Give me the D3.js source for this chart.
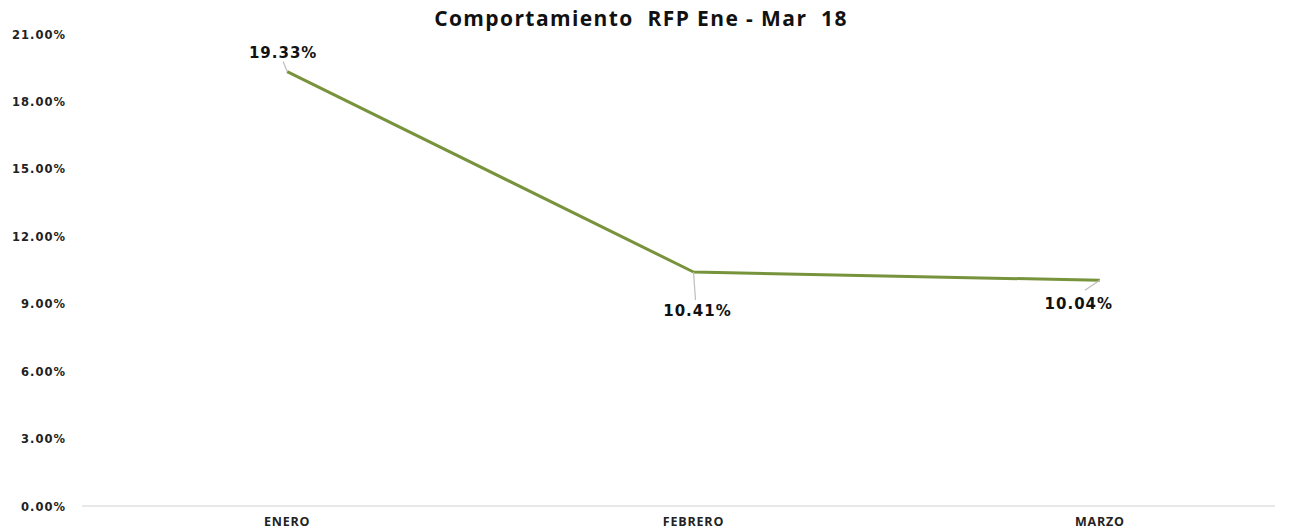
<!DOCTYPE html>
<html><head><meta charset="utf-8">
<script src="https://cdn.jsdelivr.net/npm/d3@7"></script>
<style>body{margin:0;background:#fff}</style>
</head><body>
<svg id="c" width="1291" height="530"></svg>
<script>
const title = "Comportamiento  RFP Ene - Mar  18";
const categories = ["ENERO", "FEBRERO", "MARZO"];
const values = [0.1933, 0.1041, 0.1004];
const yTicks = [0, 0.03, 0.06, 0.09, 0.12, 0.15, 0.18, 0.21];
const labelOffsets = [[-4, -10], [4, 39], [-21, 24]]; // label placement relative to point (dx, dy)

(function () {
const svg = d3.select("#c");
const mLeft = 82, mRight = 1275, mTop = 34, mBottom = 506;

const x = d3.scaleBand().domain(categories).range([84, 1303]);
const y = d3.scaleLinear().domain([0, 0.21]).range([mBottom, mTop]);
const cx = d => x(d) + x.bandwidth() / 2;

// title
svg.append("text").attr("x", 641).attr("y", 26).attr("text-anchor", "middle")
  .attr("font-family", "Open Sans").attr("font-weight", "bold").attr("font-size", 21)
  .attr("letter-spacing", 1.4)
  .attr("fill", "#111").style("white-space", "pre").text(title);

// baseline
svg.append("line").attr("x1", mLeft).attr("x2", mRight).attr("y1", y(0)).attr("y2", y(0))
  .attr("stroke", "#e0e0e0").attr("stroke-width", 1.5);

// y axis labels
const yAxis = d3.axisLeft(y).tickValues(yTicks).tickFormat(d3.format(".2%")).tickSize(0).tickPadding(0);
const ya = svg.append("g").attr("transform", `translate(66,0)`).call(yAxis);
ya.select(".domain").remove();
ya.selectAll("text").attr("font-family", "DejaVu Sans").attr("font-weight", "bold")
  .attr("font-size", 11.5).attr("letter-spacing", 1.0).attr("fill", "#222").attr("dy", "0.35em");

// x axis labels
const xAxis = d3.axisBottom(x).tickSize(0).tickPadding(0);
const xa = svg.append("g").attr("transform", `translate(0,${mBottom + 11})`).call(xAxis);
xa.select(".domain").remove();
xa.selectAll("text").attr("font-family", "Open Sans").attr("font-weight", "bold")
  .attr("font-size", 12.5).attr("letter-spacing", 0.8).attr("fill", "#222").attr("dy", "0.71em");

// line
const line = d3.line().x((d, i) => cx(categories[i])).y(d => y(d));
svg.append("path").datum(values).attr("d", line).attr("fill", "none")
  .attr("stroke", "#77933C").attr("stroke-width", 3).attr("stroke-linejoin", "round");

// leader lines and labels
values.forEach((v, i) => {
  const px = cx(categories[i]), py = y(v);
  const [dx, dy] = labelOffsets[i];
  const lx = px + dx, ly = py + dy;
  let sx, sy;
  if (dy < 0) { sx = lx; sy = ly; }
  else if (i === 1) { sx = lx - 2; sy = ly - 11; }
  else { sx = lx + 6; sy = ly - 14; }
  svg.append("line").attr("x1", px).attr("y1", py).attr("x2", sx).attr("y2", sy)
    .attr("stroke", "#bdbdbd").attr("stroke-width", 1.2);
  svg.append("text").attr("x", lx).attr("y", ly + (dy < 0 ? -4 : 5)).attr("text-anchor", "middle")
    .attr("font-family", "DejaVu Sans").attr("font-weight", "bold").attr("font-size", 15)
    .attr("letter-spacing", 1)
    .attr("fill", "#111").text(d3.format(".2%")(v));
});
})();
</script>
</body></html>
